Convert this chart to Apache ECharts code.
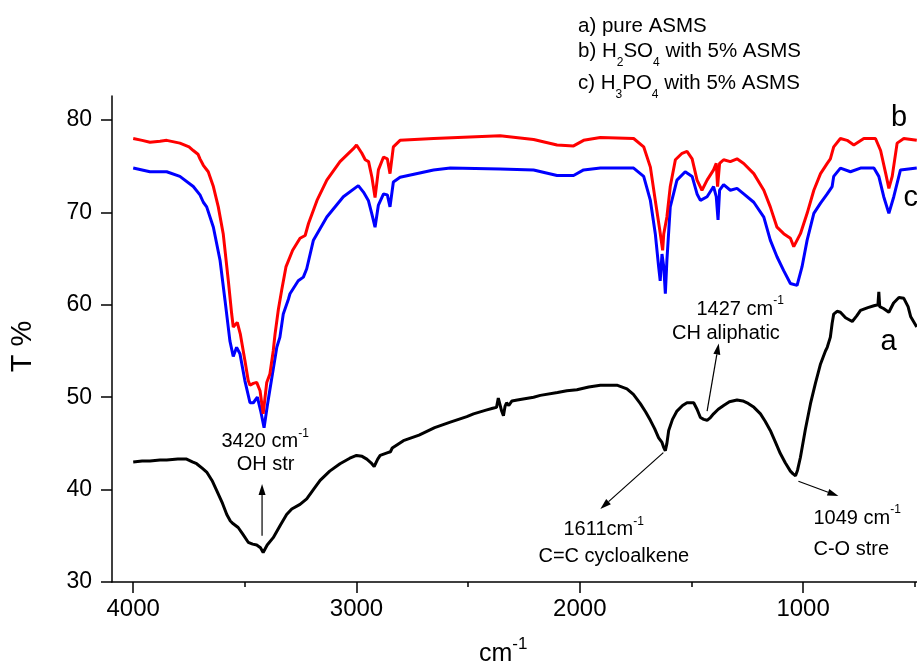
<!DOCTYPE html>
<html>
<head>
<meta charset="utf-8">
<title>FTIR spectra</title>
<script src="https://cdn.jsdelivr.net/npm/echarts@6/dist/echarts.min.js"></script>
<style>
  html, body { margin: 0; padding: 0; background: #fff; }
  #chart { width: 917px; height: 666px; }
</style>
</head>
<body>
<div id="chart"></div>
<script>
// a) pure ASMS
const aWave = [4000,3960,3925,3880,3850,3800,3761,3735,3716,3690,3671,3645,3626,3600,3581,3565,3552,3530,3510,3485,3465,3447,3430,3418,3400,3373,3340,3313,3290,3253,3223,3190,3163,3120,3074,3030,3000,2975,2954,2935,2921,2905,2894,2860,2848,2840,2835,2790,2720,2650,2580,2506,2476,2420,2390,2373,2365,2358,2350,2342,2335,2328,2318,2304,2280,2207,2177,2100,2058,2013,1960,1908,1870,1834,1789,1760,1729,1705,1684,1665,1647,1632,1625,1617,1610,1602,1585,1565,1540,1520,1490,1475,1460,1445,1430,1415,1401,1380,1356,1330,1296,1270,1251,1220,1191,1170,1147,1125,1102,1080,1057,1045,1034,1025,1012,990,967,945,922,900,892,878,870,863,848,833,810,780,760,743,710,683,665,661,657,640,616,595,571,549,530,518,491];
const aT    = [43.0,43.1,43.1,43.2,43.2,43.3,43.3,43.0,42.8,42.3,41.9,40.9,39.9,38.5,37.3,36.6,36.3,35.9,35.2,34.3,34.1,34.0,33.7,33.2,34.0,34.8,36.2,37.3,37.9,38.4,39.0,40.1,41.0,42.0,42.8,43.4,43.7,43.6,43.3,42.9,42.5,43.3,43.7,44.0,44.1,44.5,44.7,45.3,45.9,46.7,47.3,47.9,48.2,48.6,48.8,48.9,49.9,49.8,48.5,48.0,49.0,49.4,49.1,49.6,49.7,50.0,50.2,50.5,50.7,50.8,51.1,51.3,51.3,51.3,50.9,50.3,49.3,48.4,47.5,46.6,45.6,45.1,44.6,44.2,45.0,46.4,47.6,48.5,49.1,49.4,49.4,48.7,47.8,47.6,47.5,47.8,48.2,48.7,49.1,49.5,49.7,49.6,49.4,48.9,48.2,47.4,46.4,45.2,43.9,42.9,42.0,41.7,41.5,42.1,43.5,46.5,49.3,51.5,53.6,55.0,55.4,56.5,58.0,59.0,59.3,59.2,58.6,58.2,58.8,59.4,59.7,59.9,60.0,61.4,59.8,59.6,59.2,60.2,60.8,60.7,59.8,58.7,57.6];

// b) H2SO4 with 5% ASMS
const bWave = [4000,3960,3925,3880,3850,3791,3750,3731,3710,3701,3686,3664,3641,3619,3597,3574,3559,3552,3545,3534,3520,3500,3485,3477,3462,3447,3432,3418,3402,3388,3373,3365,3350,3335,3316,3286,3253,3230,3215,3177,3133,3074,3014,3000,2976,2961,2946,2931,2917,2902,2879,2862,2850,2835,2805,2655,2357,2207,2102,2028,1983,1908,1759,1714,1684,1662,1642,1629,1624,1610,1595,1572,1542,1520,1497,1475,1453,1430,1401,1389,1383,1374,1356,1326,1296,1266,1221,1176,1147,1117,1087,1057,1042,1012,982,952,922,892,878,863,833,803,773,728,676,653,630,616,601,579,549,491];
const bT    = [78.0,77.8,77.6,77.7,77.8,77.5,77.1,76.7,76.3,75.8,75.1,74.4,72.8,70.6,67.7,62.6,59.0,57.6,57.5,58.1,56.8,54.0,51.8,51.3,51.5,51.6,50.7,48.2,51.6,52.5,55.0,56.8,59.5,61.6,64.1,65.9,67.2,67.5,68.8,71.3,73.5,75.5,76.9,77.3,76.4,75.7,75.5,73.8,71.6,74.6,76.0,75.8,74.2,77.1,77.8,78.0,78.3,77.9,77.3,77.2,77.8,78.1,78.0,77.1,74.9,71.3,68.1,65.9,67.7,69.5,72.8,75.7,76.4,76.6,75.8,73.5,72.4,73.5,74.6,75.3,72.8,75.3,75.7,75.5,75.8,75.3,74.2,72.4,70.6,68.4,67.7,67.2,66.3,67.7,69.9,72.4,74.2,75.3,75.8,77.1,78.0,77.8,77.3,78.0,78.0,76.7,74.2,72.6,73.9,77.5,78.0,77.8];

// c) H3PO4 with 5% ASMS
const cWave = [4000,3925,3850,3791,3731,3701,3686,3671,3641,3611,3589,3567,3552,3537,3522,3500,3477,3462,3444,3429,3414,3400,3388,3357,3343,3328,3305,3298,3261,3238,3223,3193,3133,3059,2992,2969,2947,2932,2917,2902,2879,2862,2850,2835,2805,2655,2580,2357,2207,2102,2028,1983,1908,1759,1714,1684,1662,1647,1640,1632,1624,1617,1610,1595,1565,1528,1497,1475,1460,1430,1401,1389,1381,1374,1356,1326,1296,1266,1221,1176,1147,1117,1087,1057,1027,1005,982,952,922,892,870,863,833,788,743,683,661,639,616,594,564,491];
const cT    = [74.8,74.4,74.4,73.9,72.8,71.9,71.1,70.6,68.4,64.8,60.5,56.1,54.4,55.4,54.7,51.8,49.4,49.4,50.0,48.5,46.7,49.0,50.8,55.4,56.5,59.0,60.6,61.2,62.6,63.0,63.9,67.0,69.5,71.7,72.9,72.2,71.3,69.9,68.4,70.8,72.0,71.9,70.6,73.3,73.8,74.6,74.8,74.7,74.6,74.0,74.0,74.6,74.8,74.8,73.9,71.3,67.7,64.1,62.6,65.5,64.1,61.2,64.8,70.6,73.5,74.4,73.9,72.0,71.3,71.7,72.8,71.7,69.2,72.4,73.0,72.4,72.6,72.0,71.1,69.5,67.0,65.2,63.7,62.3,62.1,64.1,67.0,69.9,71.0,72.0,72.8,73.9,74.8,74.4,74.8,74.8,73.9,71.7,69.9,71.7,74.6,74.8];

// axis ticks
const xMajorTicks = [1000, 2000, 3000, 4000];
const xMinorTicks = [500, 1500, 2500, 3500];
const yTicks = [30, 40, 50, 60, 70, 80];

// band assignments: [tailWave, tailT, tipWave, tipT]
const arrowOH  = [3423, 35.0, 3423, 40.6];
const arrowCC  = [1626, 44.0, 1908, 37.9];
const arrowCH  = [1430, 48.5, 1378, 55.8];
const arrowCO  = [1021, 40.9, 842, 39.3];

const FONT = '"Liberation Sans", Arial, Helvetica, sans-serif';

function pairs(xs, ys) { return xs.map((x, i) => [x, ys[i]]); }

const chart = echarts.init(document.getElementById('chart'), null, { renderer: 'canvas' });

const xRange = { min: 490, max: 4095 };
const plainNumber = v => String(v);

chart.setOption({
  animation: false,
  backgroundColor: '#ffffff',
  grid: { left: 112, right: 0, top: 96, bottom: 84, containLabel: false },
  xAxis: [
    {
      type: 'value', inverse: true, position: 'bottom',
      min: xRange.min, max: xRange.max,
      splitLine: { show: false },
      axisLine: { show: true, onZero: false, lineStyle: { color: '#000', width: 1.5 } },
      axisTick: { show: true, customValues: xMajorTicks, length: 11, lineStyle: { color: '#000', width: 1.5 } },
      axisLabel: { customValues: xMajorTicks, formatter: plainNumber, color: '#000', fontSize: 24, fontFamily: FONT, margin: 15 }
    },
    {
      type: 'value', inverse: true, position: 'bottom',
      min: xRange.min, max: xRange.max,
      splitLine: { show: false },
      axisLine: { show: false, onZero: false },
      axisTick: { show: true, customValues: xMinorTicks, length: 5, lineStyle: { color: '#000', width: 1.5 } },
      axisLabel: { show: false }
    }
  ],
  yAxis: {
    type: 'value', min: 30, max: 82.6,
    splitLine: { show: false },
    axisLine: { show: true, onZero: false, lineStyle: { color: '#000', width: 1.5 } },
    axisTick: { show: true, customValues: yTicks, length: 11, lineStyle: { color: '#000', width: 1.5 } },
    axisLabel: { customValues: yTicks, formatter: plainNumber, color: '#000', fontSize: 23, fontFamily: FONT, margin: 20 }
  },
  series: [
    { name: 'a', type: 'line', data: pairs(aWave, aT), showSymbol: false, xAxisIndex: 0, yAxisIndex: 0,
      lineStyle: { color: '#000000', width: 3 }, itemStyle: { color: '#000000' }, z: 2 },
    { name: 'c', type: 'line', data: pairs(cWave, cT), showSymbol: false, xAxisIndex: 0, yAxisIndex: 0,
      lineStyle: { color: '#0000ff', width: 3 }, itemStyle: { color: '#0000ff' }, z: 3 },
    { name: 'b', type: 'line', data: pairs(bWave, bT), showSymbol: false, xAxisIndex: 0, yAxisIndex: 0,
      lineStyle: { color: '#ff0000', width: 3 }, itemStyle: { color: '#ff0000' }, z: 4 }
  ]
});

// text styles
const base = { fill: '#000', fontFamily: FONT };
const legendRich = {
  m: { fontSize: 20.5, fontFamily: FONT, fill: '#000', verticalAlign: 'top' },
  s: { fontSize: 12, fontFamily: FONT, fill: '#000', verticalAlign: 'top', padding: [16, 0, 0, 0] }
};
const noteRich = {
  m: { fontSize: 20, fontFamily: FONT, fill: '#000', verticalAlign: 'top', padding: [4, 0, 0, 0] },
  p: { fontSize: 12, fontFamily: FONT, fill: '#000', verticalAlign: 'top' }
};
const titleRich = {
  m: { fontSize: 25, fontFamily: FONT, fill: '#000', verticalAlign: 'top', padding: [6, 0, 0, 0] },
  p: { fontSize: 17, fontFamily: FONT, fill: '#000', verticalAlign: 'top' }
};

function richText(x, y, text, rich) {
  return { type: 'text', x: x, y: y, z: 10,
    style: Object.assign({}, base, { text: text, rich: rich, align: 'left', verticalAlign: 'top' }) };
}
function plainText(x, y, text, size) {
  return { type: 'text', x: x, y: y, z: 10,
    style: Object.assign({}, base, { text: text, fontSize: size, align: 'left', verticalAlign: 'top' }) };
}

const texts = [
  // legend
  richText(578, 15.7, '{m|a) pure ASMS}', legendRich),
  richText(578, 41.1, '{m|b) H}{s|2}{m|SO}{s|4}{m| with 5% ASMS}', legendRich),
  richText(578, 72.7, '{m|c) H}{s|3}{m|PO}{s|4}{m| with 5% ASMS}', legendRich),
  // curve letters
  plainText(891, 103.5, 'b', 29),
  plainText(903.5, 183.5, 'c', 29),
  plainText(880.5, 327.5, 'a', 29),
  // band notes
  richText(221.5, 427.4, '{m|3420 cm}{p|-1}', noteRich),
  plainText(236.7, 454.8, 'OH str', 20),
  richText(696.5, 295.1, '{m|1427 cm}{p|-1}', noteRich),
  plainText(672, 323.1, 'CH aliphatic', 20),
  richText(563.5, 515.8, '{m|1611cm}{p|-1}', noteRich),
  plainText(538.5, 546.1, 'C=C cycloalkene', 20),
  richText(813.5, 504.1, '{m|1049 cm}{p|-1}', noteRich),
  plainText(813.5, 539.8, 'C-O stre', 20),
  // axis titles
  richText(479, 635.8, '{m|cm}{p|-1}', titleRich),
  { type: 'text', x: 23, y: 346.5, rotation: Math.PI / 2, z: 10,
    style: Object.assign({}, base, { text: 'T %', fontSize: 29, align: 'center', verticalAlign: 'middle' }) }
];

// arrows anchored in data coordinates
function arrow(spec) {
  const p0 = chart.convertToPixel({ seriesIndex: 0 }, [spec[0], spec[1]]);
  const p1 = chart.convertToPixel({ seriesIndex: 0 }, [spec[2], spec[3]]);
  const dx = p1[0] - p0[0], dy = p1[1] - p0[1];
  const len = Math.sqrt(dx * dx + dy * dy);
  const ux = dx / len, uy = dy / len;
  const nx = -uy, ny = ux;
  const L = 11, W = 7;
  const bx = p1[0] - ux * L, by = p1[1] - uy * L;
  return [
    { type: 'line', z: 9, shape: { x1: p0[0], y1: p0[1], x2: bx, y2: by },
      style: { stroke: '#000', lineWidth: 1.2 } },
    { type: 'polygon', z: 9, shape: { points: [[p1[0], p1[1]], [bx + nx * W / 2, by + ny * W / 2], [bx - nx * W / 2, by - ny * W / 2]] },
      style: { fill: '#000' } }
  ];
}

const arrows = [].concat(arrow(arrowOH), arrow(arrowCC), arrow(arrowCH), arrow(arrowCO));

chart.setOption({ graphic: texts.concat(arrows) });
</script>
</body>
</html>
